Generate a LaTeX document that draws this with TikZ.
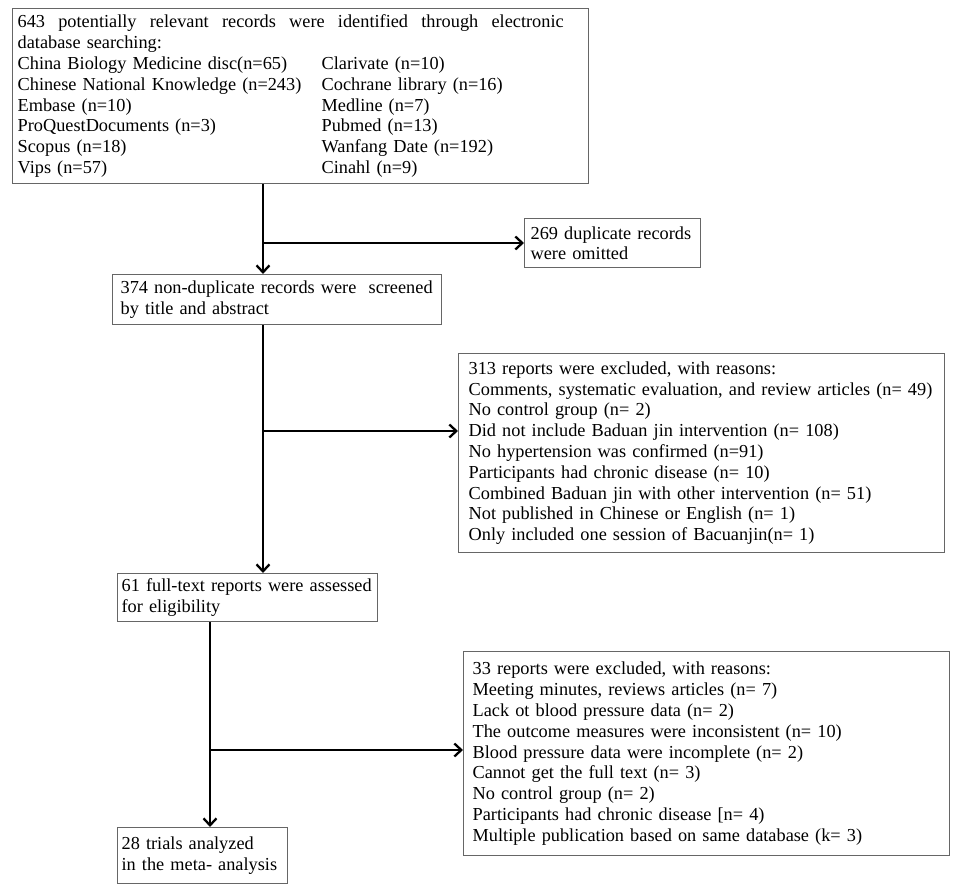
\documentclass[tikz,border=0pt]{standalone}
\usepackage{fontspec}
\setmainfont{Liberation Serif}
\usetikzlibrary{arrows.meta,positioning}

\begin{document}
\begin{tikzpicture}[x=1pt, y=-1pt, font=\fontsize{18.3}{20.8}\selectfont]
    \tikzstyle{box} = [rectangle, draw=black!60, line width=1.3pt, anchor=north west, inner ysep=0pt]
    \tikzstyle{line} = [draw, line width=2.3pt, -{Straight Barb[length=7pt, width=13pt]}]

    \useasboundingbox (0,0) rectangle (957,885);

    \node [box, text width=566pt, inner xsep=5pt, minimum height=175pt] (search) at (12,8) {\makebox[546pt][l]{643\hfill potentially\hfill relevant\hfill records\hfill were\hfill identified\hfill through\hfill electronic}\\
        database searching:\\
        \makebox[304pt][l]{China Biology Medicine disc(n=65)}Clarivate (n=10)\\
        \makebox[304pt][l]{Chinese National Knowledge (n=243)}Cochrane library (n=16)\\
        \makebox[304pt][l]{Embase (n=10)}Medline (n=7)\\
        \makebox[304pt][l]{ProQuestDocuments (n=3)}Pubmed (n=13)\\
        \makebox[304pt][l]{Scopus (n=18)}Wanfang Date (n=192)\\
        \makebox[304pt][l]{Vips (n=57)}Cinahl (n=9)};
    \node [box, text width=164pt, inner xsep=6pt, minimum height=49pt] (dup) at (524,218) {269 duplicate records\\ were omitted};
    \node [box, text width=313pt, inner xsep=8pt, minimum height=50pt] (screen) at (112,274) {374 non-duplicate records were\ \ screened\\ by title and abstract};
    \node [box, text width=466pt, inner xsep=10pt, minimum height=199pt] (excl1) at (458,353) {313 reports were excluded, with reasons:\\
        Comments, systematic evaluation, and review articles (n= 49)\\
        No control group (n= 2)\\
        Did not include Baduan jin intervention (n= 108)\\
        No hypertension was confirmed (n=91)\\
        Participants had chronic disease (n= 10)\\
        Combined Baduan jin with other intervention (n= 51)\\
        Not published in Chinese or English (n= 1)\\
        Only included one session of Bacuanjin(n= 1)};
    \node [box, text width=252pt, inner xsep=4pt, minimum height=48pt] (full) at (117,573) {61 full-text reports were assessed\\ for eligibility};
    \node [box, text width=468pt, inner xsep=9pt, minimum height=204pt] (excl2) at (463,651) {33 reports were excluded, with reasons:\\
        Meeting minutes, reviews articles (n= 7)\\
        Lack ot blood pressure data (n= 2)\\
        The outcome measures were inconsistent (n= 10)\\
        Blood pressure data were incomplete (n= 2)\\
        Cannot get the full text (n= 3)\\
        No control group (n= 2)\\
        Participants had chronic disease [n= 4)\\
        Multiple publication based on same database (k= 3)};
    \node [box, text width=162pt, inner xsep=4pt, minimum height=56pt] (incl) at (117,827) {28 trials analyzed\\ in the meta- analysis};

    \coordinate (j1) at (263,243);
    \coordinate (j2) at (263,431);
    \coordinate (j3) at (210,750);

    \path [line] (j1 |- search.south) -- (j1 |- screen.north);
    \path [line] (j1) -- (j1 -| dup.west);
    \path [line] (j2 |- screen.south) -- (j2 |- full.north);
    \path [line] (j2) -- (j2 -| excl1.west);
    \path [line] (j3 |- full.south) -- (j3 |- incl.north);
    \path [line] (j3) -- (j3 -| excl2.west);
\end{tikzpicture}
\end{document}
